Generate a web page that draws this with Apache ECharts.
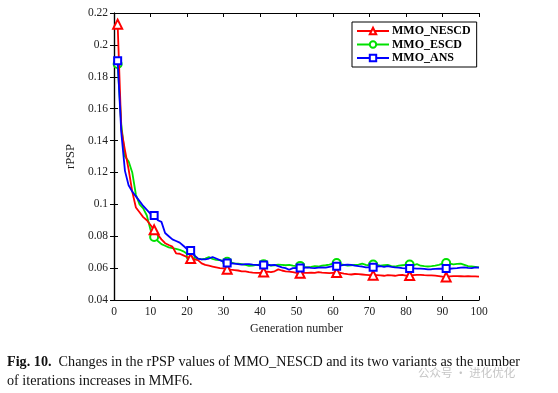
<!DOCTYPE html>
<html>
<head>
<meta charset="utf-8">
<script src="https://cdn.jsdelivr.net/npm/echarts@6/dist/echarts.min.js"></script>
<style>
  html, body { margin: 0; padding: 0; background: #fff; }
  #main { width: 558px; height: 393px; }
</style>
</head>
<body>
<div id="main"></div>
<script>
// generation numbers 1..100
const generations = Array.from({ length: 100 }, (_, i) => i + 1);

// rPSP values
const nescd = [
  0.213, 0.147, 0.134, 0.122, 0.108, 0.098, 0.095, 0.092, 0.090, 0.087,
  0.084, 0.081, 0.078, 0.0756, 0.0745, 0.0735, 0.0693, 0.069, 0.068, 0.067,
  0.066, 0.0655, 0.065, 0.063, 0.062, 0.0615, 0.061, 0.0605, 0.060, 0.0598,
  0.0593, 0.059, 0.0588, 0.0585, 0.058, 0.058, 0.0575, 0.0572, 0.057, 0.057,
  0.0575, 0.0578, 0.0575, 0.058, 0.0592, 0.0585, 0.058, 0.0578, 0.0575, 0.057,
  0.0568, 0.057, 0.057, 0.0572, 0.057, 0.0575, 0.0572, 0.057, 0.0568, 0.057,
  0.0572, 0.057, 0.0565, 0.0562, 0.056, 0.0563, 0.0562, 0.056, 0.0558, 0.0556,
  0.0556, 0.0556, 0.0555, 0.0552, 0.0556, 0.0554, 0.0552, 0.0556, 0.0558, 0.0553,
  0.0553, 0.0556, 0.0557, 0.0558, 0.0556, 0.0555, 0.0555, 0.0553, 0.055, 0.0546,
  0.0545, 0.0548, 0.055, 0.055, 0.0549, 0.0548, 0.0549, 0.0548, 0.0548, 0.0547
];
const escd = [
  0.188, 0.150, 0.130, 0.127, 0.120, 0.106, 0.100, 0.0975, 0.093, 0.084,
  0.0795, 0.077, 0.075, 0.074, 0.073, 0.0725, 0.072, 0.0715, 0.0705, 0.069,
  0.0675, 0.0667, 0.066, 0.0655, 0.066, 0.067, 0.0658, 0.0652, 0.065, 0.0645,
  0.064, 0.0635, 0.063, 0.0628, 0.0625, 0.062, 0.0614, 0.0615, 0.062, 0.0622,
  0.0625, 0.062, 0.0615, 0.0618, 0.0622, 0.062, 0.0618, 0.062, 0.0615, 0.0612,
  0.0614, 0.0608, 0.0605, 0.0608, 0.0612, 0.061, 0.0615, 0.0618, 0.0622, 0.0628,
  0.0632, 0.0625, 0.062, 0.0615, 0.0618, 0.062, 0.0622, 0.0628, 0.062, 0.0618,
  0.0622, 0.062, 0.0615, 0.0618, 0.062, 0.0612, 0.061, 0.0615, 0.0618, 0.062,
  0.0622, 0.0618, 0.0625, 0.0615, 0.0612, 0.061, 0.0612, 0.0615, 0.062, 0.0628,
  0.0632, 0.0628, 0.0624, 0.0627, 0.0628, 0.062, 0.0612, 0.061, 0.0608, 0.0605
];
const ans = [
  0.190, 0.145, 0.121, 0.112, 0.108, 0.105, 0.102, 0.099, 0.0965, 0.094,
  0.093, 0.090, 0.089, 0.082, 0.080, 0.078, 0.077, 0.076, 0.074, 0.072,
  0.071, 0.068, 0.066, 0.0655, 0.0655, 0.066, 0.067, 0.066, 0.065, 0.064,
  0.0632, 0.063, 0.0628, 0.0625, 0.0622, 0.0625, 0.0625, 0.0622, 0.062, 0.0618,
  0.062, 0.0622, 0.0618, 0.062, 0.0612, 0.0605, 0.060, 0.059, 0.060, 0.0602,
  0.060, 0.0602, 0.0605, 0.0602, 0.060, 0.0603, 0.0605, 0.0603, 0.0608, 0.0612,
  0.0612, 0.0615, 0.062, 0.0622, 0.062, 0.0615, 0.0612, 0.061, 0.0605, 0.0605,
  0.0605, 0.061, 0.0612, 0.0608, 0.0612, 0.0608, 0.0605, 0.0603, 0.060, 0.0598,
  0.0598, 0.0598, 0.0597, 0.0597, 0.0595, 0.0592, 0.0593, 0.0595, 0.0597, 0.0596,
  0.0597, 0.0596, 0.0598, 0.060, 0.0603, 0.0605, 0.0602, 0.060, 0.0605, 0.0603
];

const seriesNames = ['MMO_NESCD', 'MMO_ESCD', 'MMO_ANS'];
const xTicks = { min: 0, max: 100, interval: 10 };
const yTicks = { min: 0.04, max: 0.22, interval: 0.02 };

const serif = 'Liberation Serif, Times New Roman, serif';

// markers only every 10 generations (1, 11, 21, ...)
function toData(vals) {
  return vals.map((v, i) => i % 10 === 0
    ? [generations[i], v]
    : { value: [generations[i], v], symbol: 'none' });
}

function lineSeries(name, vals, color, symbol, size) {
  return {
    name: name,
    type: 'line',
    data: toData(vals),
    symbol: symbol,
    symbolSize: size,
    showAllSymbol: true,
    lineStyle: { color: color, width: 1.8 },
    itemStyle: { color: color, borderWidth: 1.4 },
    emphasis: { disabled: true },
    z: name === 'MMO_ANS' ? 4 : (name === 'MMO_NESCD' ? 3 : 2)
  };
}

const axisLabelStyle = { color: '#222', fontFamily: serif, fontSize: 11.5 };
const lineBlack = { show: true, lineStyle: { color: '#000', width: 1.2 } };
const tickIn = { show: true, inside: true, length: 4, lineStyle: { color: '#000', width: 1 } };

let myChart = echarts.init(document.getElementById('main'));

const options = {
  backgroundColor: '#fff',
  animation: false,
  grid: { left: 114, right: 79, top: 13, bottom: 93 },
  legend: {
    orient: 'vertical',
    left: 352,
    top: 22,
    itemWidth: 32,
    itemHeight: 8,
    itemGap: 1.5,
    padding: [3, 6, 3, 4],
    borderColor: '#000',
    borderWidth: 1,
    backgroundColor: '#fff',
    textStyle: { fontFamily: serif, fontWeight: 'bold', fontSize: 12, color: '#000', padding: [0, 0, 0, -2] },
    data: seriesNames
  },
  xAxis: [
    {
      type: 'value', ...xTicks, position: 'bottom',
      name: 'Generation number', nameLocation: 'middle', nameGap: 19,
      nameTextStyle: { fontFamily: serif, fontSize: 12, color: '#222' },
      axisLine: lineBlack, axisTick: tickIn, splitLine: { show: false },
      axisLabel: { ...axisLabelStyle, margin: 6 }
    },
    {
      type: 'value', ...xTicks, position: 'top',
      axisLine: lineBlack, axisTick: tickIn, splitLine: { show: false },
      axisLabel: { show: false }
    }
  ],
  yAxis: [
    {
      type: 'value', ...yTicks, position: 'left',
      name: 'rPSP', nameLocation: 'middle', nameGap: 30, nameRotate: 90,
      nameTextStyle: { fontFamily: serif, fontSize: 12.5, color: '#222' },
      axisLine: lineBlack, axisTick: tickIn, splitLine: { show: false },
      axisLabel: { ...axisLabelStyle, margin: 6 }
    },
    {
      type: 'value', ...yTicks, position: 'right',
      axisLine: lineBlack, axisTick: tickIn, splitLine: { show: false },
      axisLabel: { show: false }
    }
  ],
  series: [
    lineSeries(seriesNames[0], nescd, '#ff0000', 'emptyTriangle', 9),
    lineSeries(seriesNames[1], escd, '#00e000', 'emptyCircle', 8),
    lineSeries(seriesNames[2], ans, '#0000ff', 'emptyRect', 7)
  ],
  graphic: [
    {
      type: 'text', left: 7, top: 355,
      style: {
        text: '{b|Fig. 10.}  Changes in the rPSP values of MMO_NESCD and its two variants as the number',
        rich: {
          b: { fontFamily: serif, fontWeight: 'bold', fontSize: 14.2, fill: '#111' }
        },
        font: '14.2px ' + serif, fill: '#111'
      }
    },
    {
      type: 'text', left: 7, top: 374,
      style: { text: 'of iterations increases in MMF6.', font: '14.2px ' + serif, fill: '#111' }
    },
    {
      type: 'text', left: 418, top: 367,
      style: { text: '公众号 · 进化优化', font: '11.5px "Noto Sans CJK SC"', fill: 'rgba(150,150,150,0.55)' }
    }
  ]
};

myChart.setOption(options);
</script>
</body>
</html>
